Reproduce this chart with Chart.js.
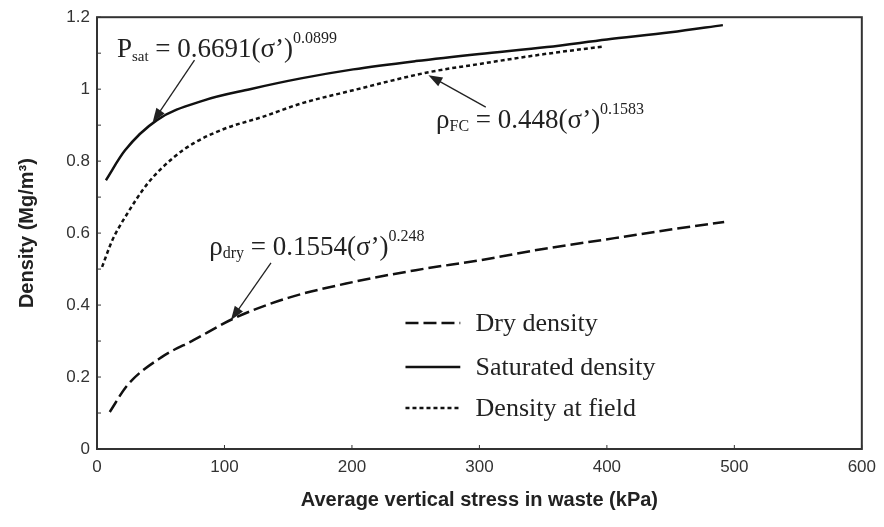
<!DOCTYPE html>
<html>
<head>
<meta charset="utf-8">
<script src="https://cdn.jsdelivr.net/npm/chart.js@4.4.1/dist/chart.umd.min.js"></script>
<style>
  html, body { margin: 0; padding: 0; background: #fff; }
  #wrap { width: 884px; height: 527px; }
</style>
</head>
<body>
<div id="wrap"><canvas id="densityChart" width="884" height="527"></canvas></div>
<script>
// stress (kPa) and density (Mg/m3)
const dryStress = [10, 24, 51, 76, 108, 150, 201, 250, 301, 350, 406, 450, 492];
const dryDensity = [0.103, 0.178, 0.256, 0.303, 0.364, 0.42, 0.464, 0.497, 0.525, 0.556, 0.586, 0.61, 0.631];

const satStress = [7, 22, 47, 84, 120, 160, 201, 250, 300, 353, 400, 450, 491];
const satDensity = [0.747, 0.83, 0.914, 0.969, 1.0, 1.03, 1.055, 1.078, 1.098, 1.117, 1.138, 1.158, 1.178];

const fieldStress = [4, 12, 22, 40, 60, 76, 100, 129, 160, 201, 260, 300, 350, 398];
const fieldDensity = [0.506, 0.58, 0.644, 0.739, 0.81, 0.85, 0.89, 0.922, 0.96, 0.997, 1.047, 1.07, 1.097, 1.119];

const seriesNames = ['Dry density', 'Saturated density', 'Density at field'];

const xMin = 0, xMax = 600, xStep = 100;
const yMin = 0, yMax = 1.2, yStep = 0.1;

function toPoints(xs, ys) {
    return xs.map((x, i) => ({ x: x, y: ys[i] }));
}

const serif = '"Liberation Serif", "Times New Roman", serif';
const sans = '"Liberation Sans", Arial, sans-serif';

// equation label: list of pieces [text, size, raise]
function drawEquation(ctx, x, y, pieces) {
    let cx = x;
    pieces.forEach(p => {
        ctx.font = p[1] + 'px ' + serif;
        ctx.fillText(p[0], cx, y - p[2]);
        cx += ctx.measureText(p[0]).width;
    });
}

function drawArrow(ctx, x1, y1, x2, y2) {
    const ang = Math.atan2(y2 - y1, x2 - x1);
    const head = 14, wing = 5;
    ctx.beginPath();
    ctx.moveTo(x1, y1);
    ctx.lineTo(x2 - Math.cos(ang) * head * 0.8, y2 - Math.sin(ang) * head * 0.8);
    ctx.lineWidth = 1.3;
    ctx.stroke();
    ctx.beginPath();
    ctx.moveTo(x2, y2);
    ctx.lineTo(x2 - Math.cos(ang) * head - Math.sin(ang) * wing, y2 - Math.sin(ang) * head + Math.cos(ang) * wing);
    ctx.lineTo(x2 - Math.cos(ang) * head + Math.sin(ang) * wing, y2 - Math.sin(ang) * head - Math.cos(ang) * wing);
    ctx.closePath();
    ctx.fill();
}

const framePlugin = {
    id: 'frame',
    afterDatasetsDraw(chart) {
        const ctx = chart.ctx;
        const a = chart.chartArea;
        const xs = chart.scales.x, ys = chart.scales.y;
        ctx.save();
        ctx.strokeStyle = '#333';
        ctx.fillStyle = '#222';

        // box around plot
        ctx.lineWidth = 2;
        ctx.strokeRect(a.left, a.top, a.right - a.left, a.bottom - a.top);

        // inward tick marks
        ctx.lineWidth = 1;
        ys.ticks.forEach(t => {
            const py = ys.getPixelForValue(t.value);
            ctx.beginPath(); ctx.moveTo(a.left, py); ctx.lineTo(a.left + 4, py); ctx.stroke();
        });
        xs.ticks.forEach(t => {
            const px = xs.getPixelForValue(t.value);
            ctx.beginPath(); ctx.moveTo(px, a.bottom); ctx.lineTo(px, a.bottom - 4); ctx.stroke();
        });

        // equations and arrows
        ctx.fillStyle = '#222';
        ctx.strokeStyle = '#222';
        ctx.textBaseline = 'alphabetic';
        const X = v => xs.getPixelForValue(v), Y = v => ys.getPixelForValue(v);

        drawEquation(ctx, X(15.6), Y(1.089), [['P', 27, 0], ['sat', 15, -4], [' = 0.6691(\u03c3\u2019)', 27, 0], ['0.0899', 16, 14]]);
        drawArrow(ctx, X(76.5), Y(1.081), X(43.7), Y(0.908));

        drawEquation(ctx, X(266), Y(0.892), [['\u03c1', 27, 0], ['FC', 16, -3], [' = 0.448(\u03c3\u2019)', 27, 0], ['0.1583', 16, 14]]);
        drawArrow(ctx, X(305), Y(0.95), X(260), Y(1.039));

        drawEquation(ctx, X(88), Y(0.539), [['\u03c1', 27, 0], ['dry', 16, -3], [' = 0.1554(\u03c3\u2019)', 27, 0], ['0.248', 16, 14]]);
        drawArrow(ctx, X(136.5), Y(0.517), X(105), Y(0.358));

        // legend inside plot
        const legendY = [0.35, 0.228, 0.114];
        chart.data.datasets.forEach((ds, i) => {
            const py = Y(legendY[i]);
            ctx.beginPath();
            ctx.setLineDash(ds.borderDash || []);
            ctx.lineWidth = ds.borderWidth;
            ctx.strokeStyle = ds.borderColor;
            ctx.moveTo(X(242), py);
            ctx.lineTo(X(285), py);
            ctx.stroke();
            ctx.setLineDash([]);
            ctx.font = '26px ' + serif;
            ctx.fillStyle = '#222';
            ctx.textBaseline = 'middle';
            ctx.fillText(ds.label, X(297), py + 1);
        });
        ctx.restore();
    }
};

new Chart(document.getElementById('densityChart').getContext('2d'), {
    type: 'line',
    data: {
        datasets: [{
            label: seriesNames[0],
            data: toPoints(dryStress, dryDensity),
            borderColor: '#111',
            borderWidth: 2.5,
            borderDash: [13, 5],
            pointRadius: 0,
            cubicInterpolationMode: 'monotone'
        }, {
            label: seriesNames[1],
            data: toPoints(satStress, satDensity),
            borderColor: '#111',
            borderWidth: 2.5,
            pointRadius: 0,
            cubicInterpolationMode: 'monotone'
        }, {
            label: seriesNames[2],
            data: toPoints(fieldStress, fieldDensity),
            borderColor: '#111',
            borderWidth: 2.5,
            borderDash: [4, 3],
            pointRadius: 0,
            cubicInterpolationMode: 'monotone'
        }]
    },
    options: {
        responsive: false,
        animation: false,
        layout: { padding: { top: 17, right: 18, left: 0, bottom: 0 } },
        plugins: {
            legend: { display: false },
            tooltip: { enabled: false }
        },
        scales: {
            x: {
                type: 'linear',
                min: xMin,
                max: xMax,
                afterFit: s => { s.height = 78; },
                grid: { display: false, drawTicks: false },
                border: { display: false },
                ticks: {
                    stepSize: xStep,
                    padding: 8,
                    color: '#333',
                    font: { family: sans, size: 17 }
                },
                title: {
                    display: true,
                    text: 'Average vertical stress in waste (kPa)',
                    color: '#222',
                    font: { family: sans, size: 20, weight: 'bold' },
                    padding: { top: 0, bottom: 15 }
                }
            },
            y: {
                min: yMin,
                max: yMax,
                afterFit: s => { s.width = 97; },
                grid: { display: false, drawTicks: false },
                border: { display: false },
                ticks: {
                    stepSize: yStep,
                    padding: 7,
                    color: '#333',
                    font: { family: sans, size: 17 },
                    callback: v => {
                        const k = Math.round(v * 10);
                        return k % 2 === 0 ? String(k / 10) : '';
                    }
                },
                title: {
                    display: true,
                    text: 'Density (Mg/m\u00b3)',
                    color: '#222',
                    font: { family: sans, size: 20, weight: 'bold' },
                    padding: { top: 15, bottom: 0 }
                }
            }
        }
    },
    plugins: [framePlugin]
});
</script>
</body>
</html>
